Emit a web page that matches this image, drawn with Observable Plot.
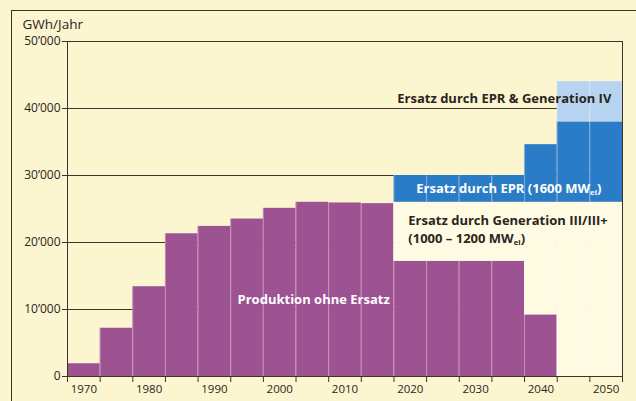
<!DOCTYPE html>
<html><head><meta charset="utf-8">
<script src="https://cdn.jsdelivr.net/npm/d3@7"></script>
<script src="https://cdn.jsdelivr.net/npm/@observablehq/plot@0.6"></script>
<style>
html,body{margin:0;padding:0;background:#fbf5d0;}
#wrap{position:relative;width:636px;height:401px;overflow:hidden;background:#fbf5d0;}
#frame{position:absolute;left:11px;top:10px;width:700px;height:500px;border:1.5px solid #3e322c;}
#wrap svg{position:absolute;left:0;top:0;}
</style></head><body><div id="wrap"><div id="frame"></div></div>
<script>
// ---- data ----
const years       = [1970,1975,1980,1985,1990,1995,2000,2005,2010,2015,2020,2025,2030,2035,2040,2045,2050];
const produktion  = [1900,7200,13400,21300,22400,23500,25100,26000,25900,25800,17200,17200,17200,17200,9200,0,0];
const ersatzGen3  = [0,0,0,0,0,0,0,0,0,0,8800,8800,8800,8800,16800,26000,26000];
const ersatzEPR   = [0,0,0,0,0,0,0,0,0,0,4000,4000,4000,4000,8600,12000,12000];
const ersatzGen4  = [0,0,0,0,0,0,0,0,0,0,0,0,0,0,0,6000,6000];
const seriesNames = ["Produktion ohne Ersatz","Ersatz Generation III/III+","Ersatz EPR","Ersatz EPR & Generation IV"];
const seriesColors = ["#9d5292","#fffbe2","#2b7cc6","#b6d4ef"];
const yTicks = [0,10000,20000,30000,40000,50000];
const xTickLabels = [1970,1980,1990,2000,2010,2020,2030,2040,2050];
const unitLabel = "GWh/Jahr";
const annotations = [
  {text:"Produktion ohne Ersatz", x:2005.2, y:11400, anchor:"middle", color:"white"},
  {text:"Ersatz durch EPR & Generation IV", x:2034.4, y:41500, anchor:"middle", color:"#2b2420"},
  {text:"Ersatz durch EPR (1600 MW_el)", x:2035.1, y:28000, anchor:"middle", color:"white"},
  {text:"Ersatz durch Generation III/III+", x:2019.7, y:23200, anchor:"start", color:"#2b2420"},
  {text:"(1000 – 1200 MW_el)", x:2019.7, y:20500, anchor:"start", color:"#2b2420"}
];

// ---- build stacked rows ----
const seriesValues = [produktion, ersatzGen3, ersatzEPR, ersatzGen4];
const half = (years[1]-years[0])/2;
const rows = [];
const totals = [];
years.forEach((yr,i) => {
  let acc = 0;
  seriesValues.forEach((vals,s) => {
    const v = vals[i];
    if (v > 0) rows.push({year:yr, series:seriesNames[s], y1:acc, y2:acc+v});
    acc += v;
  });
  totals.push({year:yr, total:acc});
});
const boundaries = years.map(y => y-half).concat([years[years.length-1]+half]);
const xDomain = [boundaries[0], boundaries[boundaries.length-1]];
const yFmt = d3.formatLocale({thousands:"’", grouping:[3], decimal:".", currency:["",""]}).format(",");
const ink = "#3e322c";
const labelStyle = {x:"x", y:"y", text:"text", fill:"color", fontWeight:700, fontSize:13, lineAnchor:"middle"};

const chart = Plot.plot({
  width:636, height:401,
  marginLeft:67, marginRight:14, marginTop:41, marginBottom:25,
  style:{fontFamily:"'Open Sans', sans-serif", fontSize:"11px", color:"#2b2420", background:"transparent", overflow:"visible"},
  x:{domain:xDomain},
  y:{domain:[yTicks[0], yTicks[yTicks.length-1]]},
  color:{domain:seriesNames, range:seriesColors},
  marks:[
    Plot.gridY(yTicks.slice(1), {stroke:ink, strokeOpacity:1, strokeWidth:1}),
    Plot.rect(rows, {x1:d=>d.year-half, x2:d=>d.year+half, y1:"y1", y2:"y2", fill:"series"}),
    Plot.ruleX(totals.filter((d,i)=>i>0 && d.total>0), {x:d=>d.year-half, y1:0, y2:"total", stroke:"white", strokeOpacity:0.35, strokeWidth:1}),
    Plot.ruleX([xDomain[1]], {y1:yTicks[0], y2:yTicks[yTicks.length-1], stroke:ink, strokeWidth:1}),
    Plot.ruleX([xDomain[0]], {y1:yTicks[0], y2:yTicks[yTicks.length-1], stroke:ink, strokeWidth:1}),
    Plot.ruleY([0], {stroke:ink, strokeWidth:1}),
    Plot.axisY({ticks:yTicks, tickSize:5, tickPadding:2, tickFormat:yFmt, label:null, stroke:ink, fontSize:12, fontWeight:500}),
    Plot.axisX({ticks:boundaries, tickSize:6, tickFormat:()=>"", label:null, stroke:ink}),
    Plot.axisX({ticks:xTickLabels, tickSize:0, tickPadding:8, tickFormat:d=>String(d), label:null, fontSize:11.5, fontWeight:500}),
    Plot.text(annotations.filter(d=>d.anchor==="middle"), {...labelStyle, textAnchor:"middle"}),
    Plot.text(annotations.filter(d=>d.anchor==="start"), {...labelStyle, textAnchor:"start"}),
    Plot.text([unitLabel], {frameAnchor:"top-left", text:d=>d, dx:-45, dy:-17, textAnchor:"start", lineAnchor:"middle", fontSize:13.5, fill:"#2b2420"})
  ]
});
document.getElementById("wrap").appendChild(chart);

// subscript "el" in MW_el
chart.querySelectorAll("text").forEach(t => {
  if (t.textContent.includes("_el")) {
    const [a,b] = t.textContent.split("_el");
    t.textContent = "";
    const ns = "http://www.w3.org/2000/svg";
    const t1 = document.createElementNS(ns,"tspan"); t1.textContent = a;
    const t2 = document.createElementNS(ns,"tspan"); t2.textContent = "el";
    t2.setAttribute("font-size","0.6em"); t2.setAttribute("dy","0.25em");
    const t3 = document.createElementNS(ns,"tspan"); t3.textContent = b; t3.setAttribute("dy","-0.15em");
    t.append(t1,t2,t3);
  }
});
</script></body></html>
